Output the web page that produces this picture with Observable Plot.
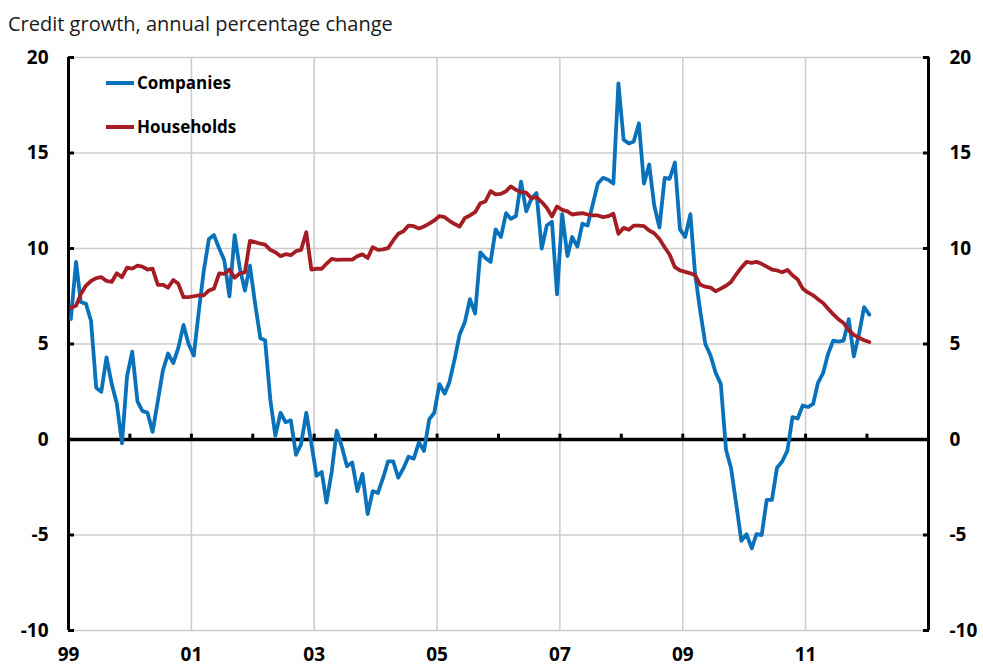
<!DOCTYPE html>
<html>
<head>
<meta charset="utf-8">
<script src="https://cdn.jsdelivr.net/npm/d3@7"></script>
<script src="https://cdn.jsdelivr.net/npm/@observablehq/plot@0.6"></script>
<style>
  body { margin: 0; background: #fff; font-family: "Open Sans", sans-serif; }
  #wrap { position: relative; width: 983px; height: 666px; overflow: hidden; }
  #title { position: absolute; left: 8px; top: 10px; font-size: 20px; color: #1a1a1a; white-space: nowrap; }
  #chart { position: absolute; left: 0; top: 40px; }
  .leg { position: absolute; left: 106px; display: flex; align-items: center; font-weight: bold; font-size: 17px; color: #000; }
  .leg .sw { width: 28px; height: 4px; margin-right: 3px; }
</style>
</head>
<body>
<div id="wrap">
  <div id="title">Credit growth, annual percentage change</div>
  <div id="chart"></div>
  <div id="legend"></div>
</div>
<script>
// Monthly series, Jan 1999 – Jan 2012
const companies = [
  6.3, 9.3, 7.2, 7.1, 6.2, 2.7, 2.5, 4.3, 2.9, 1.9, -0.2, 3.3,
  4.6, 2.0, 1.5, 1.4, 0.4, 2.0, 3.6, 4.5, 4.0, 4.8, 6.0, 5.0,
  4.4, 6.8, 8.8, 10.5, 10.7, 10.0, 9.4, 7.5, 10.7, 9.0, 7.8, 9.1,
  7.1, 5.3, 5.2, 2.1, 0.2, 1.4, 0.9, 1.0, -0.8, -0.25, 1.4, -0.2,
  -1.9, -1.7, -3.3, -1.7, 0.47, -0.4, -1.4, -1.2, -2.7, -1.8, -3.9, -2.7,
  -2.8, -2.0, -1.15, -1.15, -2.0, -1.5, -0.9, -1.0, -0.15, -0.6, 1.05, 1.4,
  2.9, 2.4, 3.0, 4.2, 5.5, 6.15, 7.35, 6.6, 9.8, 9.5, 9.3, 11.0,
  10.6, 11.85, 11.55, 11.7, 13.5, 11.95, 12.6, 12.9, 10.0, 11.2, 11.4, 7.6,
  11.8, 9.6, 10.6, 10.1, 11.3, 11.2, 12.3, 13.4, 13.7, 13.6, 13.4, 18.65,
  15.7, 15.5, 15.6, 16.55, 13.4, 14.4, 12.25, 11.1, 13.7, 13.65, 14.5, 11.0,
  10.6, 11.8, 8.66, 6.7, 5.0, 4.4, 3.5, 2.9, -0.54, -1.5, -3.4, -5.3,
  -4.96, -5.7, -4.96, -5.0, -3.16, -3.16, -1.48, -1.15, -0.58, 1.17, 1.1, 1.78,
  1.7, 1.86, 2.95, 3.47, 4.49, 5.18, 5.13, 5.18, 6.3, 4.35, 5.53, 6.93,
  6.54
];
const households = [
  6.9, 7.0, 7.6, 8.06, 8.3, 8.45, 8.5, 8.3, 8.25, 8.7, 8.5, 9.0,
  8.95, 9.1, 9.05, 8.9, 8.95, 8.1, 8.1, 7.95, 8.35, 8.15, 7.45, 7.45,
  7.5, 7.55, 7.55, 7.8, 7.9, 8.7, 8.67, 8.9, 8.47, 8.7, 8.75, 10.4,
  10.33, 10.25, 10.2, 9.93, 9.8, 9.6, 9.7, 9.65, 9.86, 9.93, 10.85, 8.9,
  8.94, 8.94, 9.2, 9.46, 9.4, 9.42, 9.42, 9.42, 9.6, 9.69, 9.5, 10.07,
  9.93, 9.95, 10.02, 10.42, 10.77, 10.9, 11.2, 11.17, 11.05, 11.15, 11.3, 11.47,
  11.7, 11.64, 11.45, 11.28, 11.15, 11.6, 11.73, 11.9, 12.37, 12.46, 13.0, 12.83,
  12.86, 13.0, 13.25, 13.07, 12.95, 12.92, 12.64, 12.69, 12.43, 12.13, 11.68, 12.2,
  12.02, 11.94, 11.78, 11.82, 11.85, 11.78, 11.73, 11.73, 11.64, 11.69, 11.82, 10.77,
  11.08, 10.98, 11.2, 11.2, 11.17, 10.94, 10.8, 10.5, 10.07, 9.67, 9.02, 8.85,
  8.78, 8.7, 8.6, 8.1, 8.0, 7.95, 7.76, 7.9, 8.05, 8.25, 8.65, 9.0,
  9.3, 9.25, 9.3, 9.2, 9.05, 8.9, 8.85, 8.76, 8.88, 8.6, 8.38, 7.9,
  7.7, 7.55, 7.35, 7.15, 6.85, 6.55, 6.3, 6.1, 5.72, 5.48, 5.33, 5.2,
  5.1
];
const seriesNames = ["Companies", "Households"];
const seriesColors = ["#0a72ba", "#a51d24"];
const yTicks = [-10, -5, 0, 5, 10, 15, 20];
const yGrid = [-10, -5, 5, 10, 15, 20];
const xLabelYears = [1999, 2001, 2003, 2005, 2007, 2009, 2011];
const xGridYears = [2001, 2003, 2005, 2007, 2009, 2011];
const zeroTickYears = [2000, 2001, 2002, 2003, 2004, 2005, 2006, 2007, 2008, 2009, 2010, 2011, 2012];
const startYear = 1999, endYear = 2013;

const yr = y => new Date(Date.UTC(y, 0, 1));
const monthDate = i => new Date(Date.UTC(startYear, i, 15));
const compData = companies.map((v, i) => ({date: monthDate(i), value: v}));
const househData = households.map((v, i) => ({date: monthDate(i), value: v}));
const start = yr(startYear), end = yr(endYear);

const gridStyle = {stroke: "#cccccc", strokeOpacity: 1, strokeWidth: 1.5};
const fmtY = d => String(d);

const chart = Plot.plot({
  width: 983,
  height: 626,
  marginLeft: 68,
  marginRight: 55,
  marginTop: 17,
  marginBottom: 36,
  style: {fontFamily: "'Open Sans', sans-serif", fontSize: "19px", fontWeight: "bold", color: "#000", background: "#fff"},
  x: {type: "utc", domain: [start, end], label: null},
  y: {domain: [-10, 20], label: null},
  marks: [
    Plot.gridY(yGrid, gridStyle),
    Plot.gridX(xGridYears.map(yr), gridStyle),
    Plot.ruleY([0], {stroke: "#000", strokeWidth: 3.5}),
    Plot.ruleX(zeroTickYears.map(yr), {x: d => d, y1: 0, y2: 0.28, stroke: "#000", strokeWidth: 3}),
    Plot.ruleX([start], {y1: -10, y2: 20, stroke: "#000", strokeWidth: 3}),
    Plot.ruleX([end], {y1: -10, y2: 20, stroke: "#000", strokeWidth: 3}),
    Plot.axisY(yTicks, {anchor: "left", label: null, tickSize: -6, tickPadding: 26, tickFormat: fmtY, strokeWidth: 3, fontWeight: "bold", fontSize: 19}),
    Plot.axisY(yTicks, {anchor: "right", label: null, tickSize: -6, tickPadding: 27, tickFormat: fmtY, strokeWidth: 3, fontWeight: "bold", fontSize: 19}),
    Plot.axisX(xLabelYears.map(yr), {anchor: "bottom", label: null, tickSize: 0, tickPadding: 17, tickFormat: d3.utcFormat("%y"), fontWeight: "bold", fontSize: 19}),
    Plot.line(compData, {x: "date", y: "value", stroke: seriesColors[0], strokeWidth: 3.8, strokeLinejoin: "round"}),
    Plot.line(househData, {x: "date", y: "value", stroke: seriesColors[1], strokeWidth: 3.8, strokeLinejoin: "round"})
  ]
});
document.getElementById("chart").appendChild(chart);

// Legend
const legend = document.getElementById("legend");
seriesNames.forEach((name, i) => {
  const row = document.createElement("div");
  row.className = "leg";
  row.style.top = (71 + i * 44) + "px";
  row.innerHTML = `<span class="sw" style="background:${seriesColors[i]}"></span><span>${name}</span>`;
  legend.appendChild(row);
});
</script>
</body>
</html>
